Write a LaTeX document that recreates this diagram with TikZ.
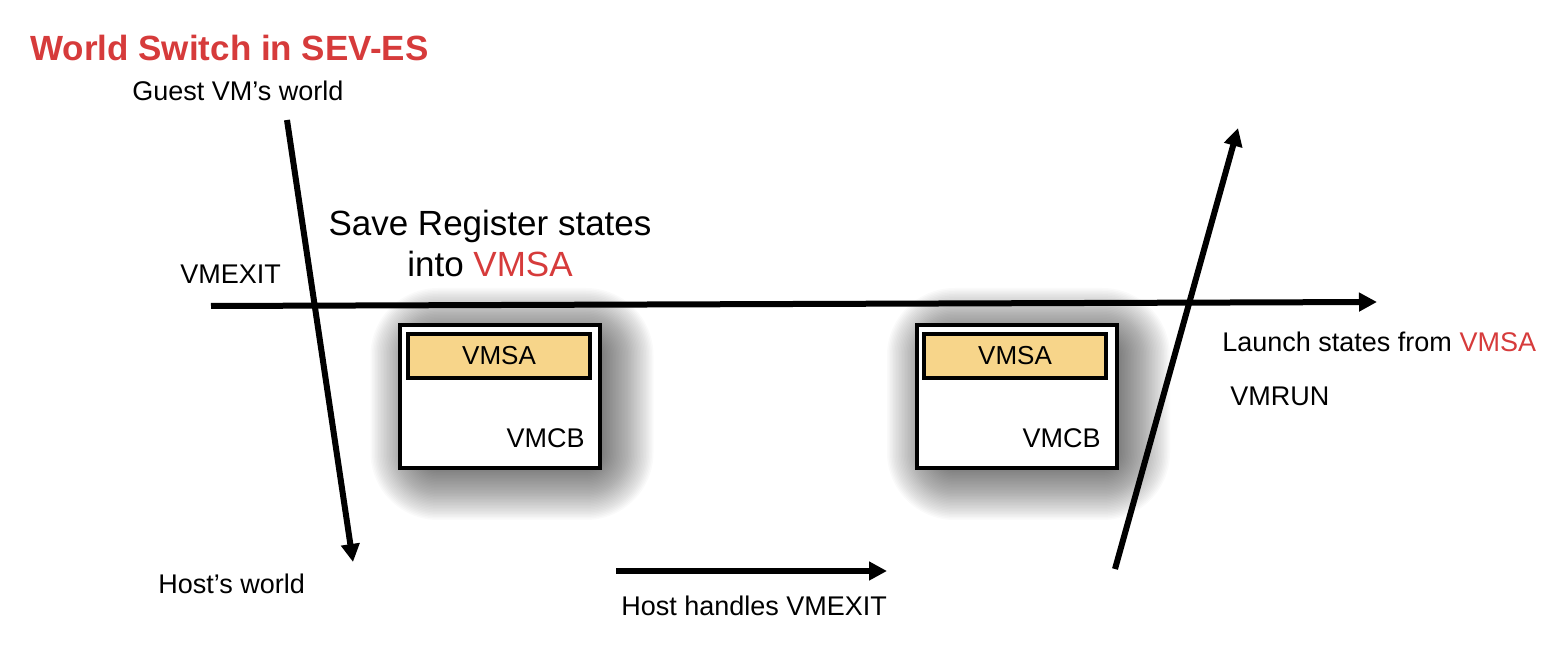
\documentclass[tikz,border=0pt]{standalone}
\usepackage{fontspec}
\setmainfont{Liberation Sans}
\usetikzlibrary{arrows.meta}
\definecolor{titlered}{RGB}{214,59,59}
\definecolor{vmsafill}{RGB}{247,213,138}
\begin{document}
\begin{tikzpicture}[x=0.5pt,y=-0.5pt,
  arr/.style={line width=3pt,-{Triangle[length=9pt,width=9pt]}},
  lbl/.style={font=\fontsize{13.5}{16}\selectfont, inner sep=0pt},
  big/.style={font=\fontsize{17.5}{21}\selectfont, inner sep=0pt},
  outerbox/.style={draw, line width=2pt, fill=white, minimum width=100pt, minimum height=71.5pt, inner sep=0pt},
  innerbox/.style={draw, line width=2pt, fill=vmsafill, minimum width=91pt, minimum height=22pt, inner sep=0pt, font=\fontsize{13}{15}\selectfont},
  shadowlayer/.style={fill=black, opacity=0.019}]
\useasboundingbox (0,0) rectangle (1560,662);
% soft shadows
\foreach \bx/\by in {500/396.5, 1016.5/396.5} {
  \foreach \i in {0,...,41} {
    \pgfmathsetmacro\rc{3+\i*0.75}
    \fill[shadowlayer, rounded corners=\rc pt] (\bx-68-\i*1.5, \by-47-\i*1.5) rectangle (\bx+92+\i*1.5, \by+62+\i*1.5);
  }
}
% boxes
\node[outerbox] (b1) at (500,396.5) {};
\node[innerbox] (s1) at (499,356) {VMSA};
\node[lbl, anchor=base east] (c1) at (585,448) {VMCB};
\node[outerbox] (b2) at (1016.5,396.5) {};
\node[innerbox] (s2) at (1015,356) {VMSA};
\node[lbl, anchor=base east] (c2) at (1101,448) {VMCB};
% texts
\node[font=\bfseries\fontsize{17.5}{21}\selectfont, text=titlered, anchor=base west, inner sep=0pt] (title) at (30,61) {World Switch in SEV-ES};
\node[lbl, anchor=base west] (guest) at (132,101) {Guest VM’s world};
\node[lbl, anchor=base west] (vmexit) at (180,284) {VMEXIT};
\node[big, anchor=base] (save1) at (490,236) {Save Register states};
\node[big, anchor=base] (save2) at (490,277) {into \textcolor{titlered}{VMSA}};
\node[lbl, anchor=base west] (launch) at (1222,352) {Launch states from \textcolor{titlered}{VMSA}};
\node[lbl, anchor=base west] (vmrun) at (1230,406) {VMRUN};
\node[lbl, anchor=base west] (hostw) at (158,594) {Host’s world};
\node[lbl, anchor=base west] (hosth) at (621,616) {Host handles VMEXIT};
% connectors
\coordinate (e1) at (211,306); \coordinate (e2) at (1377,302);
\coordinate (g1) at (287,120); \coordinate (g2) at (353,562);
\coordinate (r1) at (1115,569); \coordinate (r2) at (1238,128);
\coordinate (h1) at (616,571); \coordinate (h2) at (887,571);
\draw[arr] (e1) -- (e2);
\draw[arr] (g1) -- (g2);
\draw[arr] (r1) -- (r2);
\draw[arr] (h1) -- (h2);
\end{tikzpicture}
\end{document}
